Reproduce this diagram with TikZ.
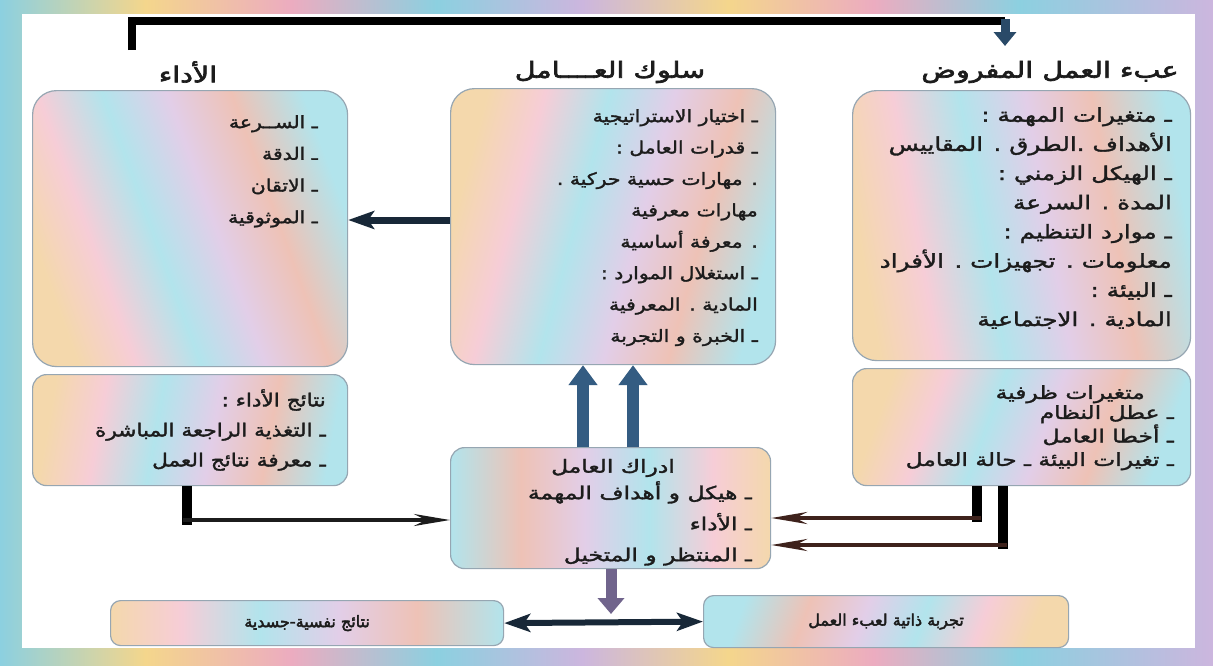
\documentclass[tikz,border=0pt]{standalone}
\usepackage{fontspec}
\usetikzlibrary{arrows.meta}
\TeXXeTstate=1
\newfontfamily\arabicfont[Script=Arabic]{DejaVu Sans}
\newfontfamily\arH[Script=Arabic,FakeBold=3,FakeStretch=1.3]{DejaVu Sans}
\newfontfamily\arA[Script=Arabic,FakeBold=1.8,FakeStretch=1.2]{DejaVu Sans}
\newfontfamily\arB[Script=Arabic,FakeBold=1.8,FakeStretch=1.3]{DejaVu Sans}
\newfontfamily\arS[Script=Arabic,FakeBold=2.6]{DejaVu Sans}
\newcommand{\ar}[1]{\beginR #1\endR}
\definecolor{pA}{RGB}{246,205,215}
\definecolor{pB}{RGB}{178,228,236}
\definecolor{pC}{RGB}{244,216,172}
\definecolor{pD}{RGB}{226,206,232}
\definecolor{pE}{RGB}{238,194,182}
\definecolor{fA}{RGB}{236,172,192}
\definecolor{fB}{RGB}{140,208,224}
\definecolor{fC}{RGB}{244,214,140}
\definecolor{fD}{RGB}{204,182,222}
\definecolor{ink}{RGB}{28,28,28}
\definecolor{boxedge}{RGB}{150,166,178}
\definecolor{steel}{RGB}{52,92,130}
\definecolor{plum}{RGB}{112,100,140}
\definecolor{navy}{RGB}{24,40,56}
\definecolor{brownk}{RGB}{62,34,28}
\pgfdeclarehorizontalshading{pastel}{100bp}{color(0bp)=(pC); color(25bp)=(pC); color(34bp)=(pA); color(44bp)=(pB); color(54bp)=(pD); color(64bp)=(pE); color(75bp)=(pB); color(100bp)=(pB)}
\pgfdeclarehorizontalshading{frame}{100bp}{color(0bp)=(fB); color(25bp)=(fB); color(31bp)=(fC); color(37bp)=(fA); color(43bp)=(fB); color(49bp)=(fD); color(55bp)=(fC); color(61bp)=(fA); color(67bp)=(fB); color(75bp)=(fD); color(100bp)=(fD)}
\tikzset{
  box/.style={draw=boxedge, line width=1.2pt, shade, shading=pastel, rounded corners=24pt, inner sep=0pt, anchor=north west},
  sbox/.style={box, rounded corners=14pt},
  txt/.style={align=right, inner sep=0pt, text=ink},
  head/.style={font={\arH\fontsize{22}{26}\selectfont}, inner sep=0pt, text=ink},
  spear/.style={line width=4pt, -{Stealth[length=36pt,width=12pt,inset=12pt]}},
  blockup/.style={line width=12pt, draw=steel, -{Triangle[width=28pt,length=20pt]}},
}
\begin{document}
\begin{tikzpicture}[x=1pt,y=-1pt]
\useasboundingbox (0,0) rectangle (1213,665);
% frame
\shade[shading=frame] (0,0) rectangle (1213,665);
\fill[white] (22,14) rectangle (1195,648);

% headers
\node[head] (hL) at (188,72) {\ar{الأداء}};
\node[head] (hM) at (610,72) {\ar{سلوك العــــامل}};
\node[head] (hR) at (1050,72) {\ar{عبء العمل المفروض}};

% boxes
\node[box, shading angle=20, minimum width=315pt, minimum height=276pt] (bL) at (32,90) {};
\node[sbox, shading angle=-10, minimum width=315pt, minimum height=111pt] (bLR) at (32,374) {};
\node[box, shading angle=-15, minimum width=325pt, minimum height=276pt] (bM) at (450,88) {};
\node[box, shading angle=10, minimum width=338pt, minimum height=270pt] (bR) at (852,90) {};
\node[sbox, shading angle=-20, minimum width=338pt, minimum height=117pt] (bRR) at (852,368) {};
\node[sbox, shading angle=180, minimum width=320pt, minimum height=121pt] (perc) at (450,447) {};
\node[sbox, shading angle=0, rounded corners=10pt, minimum width=393pt, minimum height=45pt] (bBL) at (110,600) {};
\node[sbox, shading angle=160, rounded corners=10pt, minimum width=365pt, minimum height=52pt] (bBR) at (703,595) {};

% texts
\node[txt, font={\arA\fontsize{17}{31.7}\selectfont}, anchor=north east] (tL) at (318,115)
  {\ar{ـ الســرعة}\\ \ar{ـ الدقة}\\ \ar{ـ الاتقان}\\ \ar{ـ الموثوقية}};
\node[txt, font={\arA\fontsize{18}{30}\selectfont}, anchor=north east] (tLR) at (326,389)
  {\ar{نتائج الأداء :}\\ \ar{ـ التغذية الراجعة المباشرة}\\ \ar{ـ معرفة نتائج العمل}};
\node[txt, font={\arA\fontsize{17}{31.4}\selectfont}, anchor=north east] (tM) at (758,109)
  {\ar{ـ اختيار الاستراتيجية}\\ \ar{ـ قدرات العامل :}\\ \ar{. مهارات حسية حركية .}\\ \ar{مهارات معرفية}\\ \ar{. معرفة أساسية}\\ \ar{ـ استغلال الموارد :}\\ \ar{المادية . المعرفية}\\ \ar{ـ الخبرة و التجربة}};
\node[txt, font={\arB\fontsize{19}{29.2}\selectfont}, anchor=north east] (tR) at (1172,107)
  {\ar{ـ متغيرات المهمة :}\\ \ar{الأهداف .الطرق . المقاييس}\\ \ar{ـ الهيكل الزمني :}\\ \ar{المدة . السرعة}\\ \ar{ـ موارد التنظيم :}\\ \ar{معلومات . تجهيزات . الأفراد}\\ \ar{ـ البيئة :}\\ \ar{المادية . الاجتماعية}};
\node[txt, font={\arB\fontsize{18}{22}\selectfont}, anchor=north east] (tRRh) at (1145,385) {\ar{متغيرات ظرفية}};
\node[txt, font={\arB\fontsize{18}{23.5}\selectfont}, anchor=north east] (tRR) at (1174,405)
  {\ar{ـ عطل النظام}\\ \ar{ـ أخطا العامل}\\ \ar{ـ تغيرات البيئة ـ حالة العامل}};
\node[txt, font={\arB\fontsize{18}{22}\selectfont}] (tPh) at (613,468) {\ar{ادراك العامل}};
\node[txt, font={\arB\fontsize{18}{31}\selectfont}, anchor=north east] (tP) at (752,481)
  {\ar{ـ هيكل و أهداف المهمة}\\ \ar{ـ الأداء}\\ \ar{ـ المنتظر و المتخيل}};
\node[txt, font={\arS\fontsize{16}{18}\selectfont}] (tBL) at (bBL.center) {\ar{نتائج نفسية-جسدية}};
\node[txt, font={\arS\fontsize{16}{18}\selectfont}] (tBR) at (bBR.center) {\ar{تجربة ذاتية لعبء العمل}};

% top connector
\coordinate (tc1) at (132,50);
\coordinate (tc2) at (1005,21);
\draw[line width=8pt, line join=miter, draw=black] (tc1) -- (132,21) -- (tc2);
\draw[line width=9pt, draw=steel!80!black, -{Triangle[width=22pt,length=14pt]}] (1005,19) -- (1005,46);

% middle to left
\draw[line width=7pt, draw=navy, -{Stealth[length=26pt,width=18pt,inset=6pt]}] (bM.west |- 0,220) -- (bL.east |- 0,220);

% up arrows
\draw[blockup] (perc.north -| 583,0) -- (bM.south -| 583,0);
\draw[blockup] (perc.north -| 633,0) -- (bM.south -| 633,0);

% left L connector
\draw[line width=10pt, draw=black] (bLR.south -| 187,0) -- (187,525);
\draw[spear, draw=ink] (183,520) -- (perc.west |- 0,520);

% right connectors
\draw[line width=10pt, draw=black] (bRR.south -| 977,0) -- (977,522);
\draw[spear, draw=brownk] (981,518) -- (perc.east |- 0,518);
\draw[line width=10pt, draw=black] (bRR.south -| 1003,0) -- (1003,549);
\draw[spear, draw=brownk] (1007,545) -- (perc.east |- 0,545);

% down arrow and double arrow
\coordinate (jn) at (611,614);
\draw[line width=11pt, draw=plum, -{Triangle[width=26pt,length=16pt]}] (perc.south -| jn) -- (jn);
\draw[line width=6pt, draw=navy, {Stealth[length=26pt,width=18pt,inset=6pt]}-{Stealth[length=26pt,width=18pt,inset=6pt]}] (bBL.east) -- (bBR.west);
\end{tikzpicture}
\end{document}
